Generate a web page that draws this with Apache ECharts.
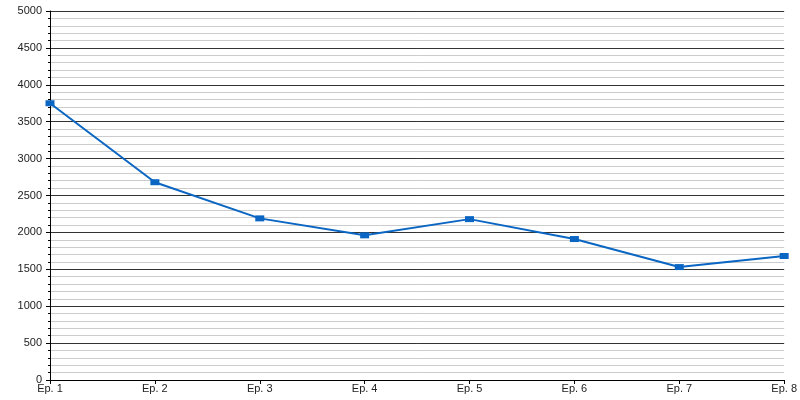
<!DOCTYPE html>
<html>
<head>
<meta charset="utf-8">
<script src="https://cdn.jsdelivr.net/npm/echarts@6/dist/echarts.min.js"></script>
<style>
  html, body { margin: 0; padding: 0; background: #fff; }
  #chart { width: 800px; height: 400px; }
</style>
</head>
<body>
<div id="chart"></div>
<script>
const episodes = ['Ep. 1', 'Ep. 2', 'Ep. 3', 'Ep. 4', 'Ep. 5', 'Ep. 6', 'Ep. 7', 'Ep. 8']
const viewers = [3750, 2680, 2190, 1960, 2180, 1910, 1530, 1680]

const chart = echarts.init(document.getElementById('chart'))

const option = {
  animation: false,
  grid: {
    left: 50,
    right: 14,
    top: 11,
    bottom: 20
  },
  xAxis: {
    type: 'category',
    data: episodes,
    boundaryGap: false,
    axisLine: { lineStyle: { color: '#000', width: 1 } },
    axisTick: { show: true, length: 4, lineStyle: { color: '#000' } },
    axisLabel: {
      color: '#222',
      fontFamily: 'Liberation Sans',
      fontSize: 11,
      margin: 3
    },
    splitLine: { show: false }
  },
  yAxis: {
    type: 'value',
    min: 0,
    max: 5000,
    interval: 500,
    axisLine: { show: true, lineStyle: { color: '#000', width: 1 } },
    axisTick: { show: true, length: 4, lineStyle: { color: '#000' } },
    minorTick: { show: true, splitNumber: 5, length: 2, lineStyle: { color: '#000' } },
    axisLabel: {
      color: '#222',
      fontFamily: 'Liberation Sans',
      fontSize: 11,
      margin: 8,
      formatter: (v) => String(v)
    },
    splitLine: { lineStyle: { color: '#333', width: 1 } },
    minorSplitLine: { show: true, lineStyle: { color: '#cccccc', width: 1 } }
  },
  series: [{
    type: 'line',
    data: viewers,
    symbol: 'rect',
    symbolSize: [9, 6],
    lineStyle: { color: '#0a66c2', width: 2 },
    itemStyle: { color: '#0a66c2' }
  }]
}

chart.setOption(option)
</script>
</body>
</html>
